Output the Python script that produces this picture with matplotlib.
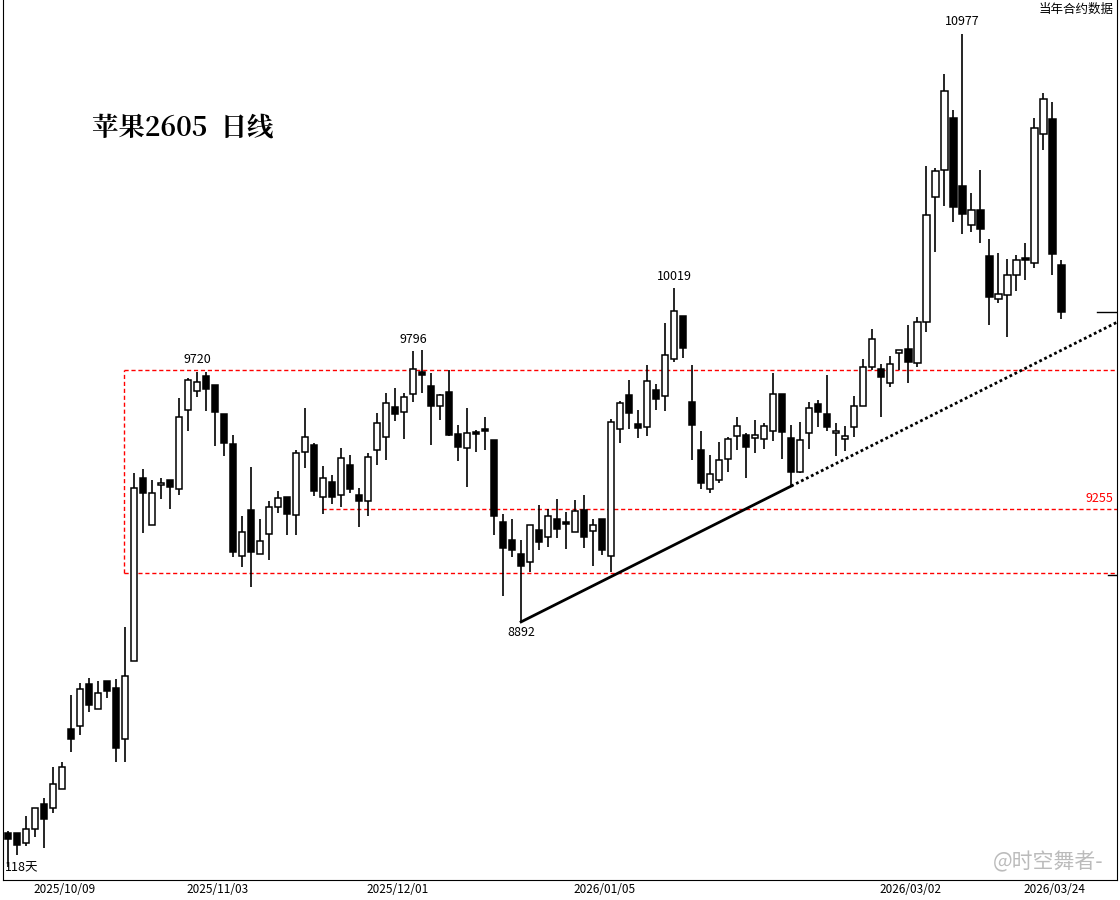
import matplotlib.pyplot as plt
import numpy as np

plt.rcParams['font.family'] = ['Noto Sans CJK SC', 'DejaVu Sans']

# 日线 OHLC
opens = [8100, 8097, 8061, 8111, 8201, 8186, 8254, 8469, 8483, 8630,
         8541, 8642, 8616, 8433, 8713, 9368, 9199, 9343, 9361, 9328,
         9611, 9679, 9733, 9702, 9598, 9490, 9088, 9254, 9096, 9167,
         9264, 9301, 9235, 9461, 9487, 9300, 9353, 9307, 9415, 9308,
         9287, 9468, 9517, 9622, 9604, 9668, 9747, 9698, 9628, 9677,
         9525, 9475, 9530, 9541, 9506, 9211, 9147, 9096, 9069, 9183,
         9159, 9222, 9210, 9177, 9255, 9178, 9222, 9088, 9545, 9665,
         9562, 9550, 9683, 9663, 9794, 9949, 9640, 9468, 9328, 9361,
         9436, 9518, 9523, 9511, 9510, 9536, 9668, 9511, 9391, 9529,
         9633, 9597, 9529, 9507, 9550, 9628, 9765, 9758, 9708, 9815,
         9830, 9779, 9926, 10374, 10470, 10657, 10414, 10273, 10327, 10164,
         10009, 10023, 10095, 10155, 10137, 10599, 10654, 10131]
closes = [8075, 8056, 8111, 8186, 8150, 8272, 8333, 8436, 8612, 8557,
          8598, 8607, 8403, 8662, 9332, 9316, 9314, 9350, 9338, 9586,
          9720, 9711, 9688, 9606, 9493, 9103, 9174, 9103, 9143, 9264,
          9296, 9241, 9457, 9514, 9323, 9368, 9302, 9439, 9330, 9287,
          9444, 9565, 9636, 9599, 9658, 9758, 9739, 9628, 9665, 9523,
          9481, 9529, 9525, 9536, 9234, 9119, 9111, 9055, 9199, 9141,
          9232, 9187, 9205, 9251, 9159, 9199, 9111, 9568, 9636, 9603,
          9549, 9715, 9653, 9808, 9966, 9835, 9560, 9352, 9382, 9432,
          9507, 9554, 9481, 9522, 9554, 9668, 9535, 9391, 9504, 9618,
          9606, 9552, 9536, 9518, 9625, 9765, 9865, 9731, 9776, 9826,
          9785, 9926, 10309, 10467, 10753, 10340, 10313, 10327, 10261, 10016,
          10026, 10094, 10149, 10148, 10621, 10724, 10172, 9964]
highs = [8105, 8100, 8159, 8186, 8222, 8334, 8351, 8592, 8635, 8653,
         8642, 8642, 8648, 8835, 9386, 9401, 9362, 9368, 9361, 9654,
         9727, 9749, 9749, 9702, 9598, 9522, 9233, 9409, 9222, 9285,
         9322, 9301, 9469, 9619, 9493, 9412, 9380, 9477, 9451, 9333,
         9458, 9601, 9674, 9690, 9674, 9823, 9827, 9746, 9670, 9755,
         9559, 9619, 9541, 9586, 9506, 9239, 9224, 9147, 9199, 9272,
         9258, 9294, 9248, 9290, 9308, 9222, 9222, 9580, 9646, 9720,
         9611, 9773, 9704, 9925, 10048, 9949, 9773, 9537, 9451, 9498,
         9517, 9587, 9529, 9576, 9565, 9745, 9668, 9559, 9568, 9640,
         9648, 9738, 9565, 9555, 9662, 9794, 9902, 9777, 9806, 9826,
         9917, 9946, 10486, 10479, 10815, 10686, 10958, 10388, 10471, 10224,
         10175, 10154, 10167, 10211, 10659, 10748, 10716, 10149]
lows = [7977, 8020, 8052, 8085, 8043, 8171, 8254, 8389, 8449, 8532,
        8541, 8582, 8353, 8353, 8713, 9173, 9199, 9294, 9258, 9308,
        9538, 9660, 9610, 9484, 9448, 9087, 9049, 8980, 9096, 9076,
        9242, 9166, 9166, 9406, 9305, 9241, 9277, 9266, 9314, 9194,
        9234, 9416, 9434, 9574, 9508, 9642, 9674, 9487, 9578, 9519,
        9431, 9338, 9463, 9469, 9166, 8947, 9085, 8854, 9033, 9113,
        9123, 9155, 9116, 9177, 9119, 9055, 9093, 9033, 9495, 9545,
        9513, 9520, 9612, 9610, 9785, 9799, 9433, 9330, 9316, 9352,
        9391, 9470, 9370, 9459, 9474, 9502, 9438, 9340, 9388, 9474,
        9550, 9538, 9449, 9467, 9517, 9628, 9755, 9588, 9696, 9755,
        9710, 9767, 9893, 10179, 10344, 10286, 10241, 10248, 10209, 9915,
        9996, 9872, 10039, 10078, 10122, 10543, 10097, 9938]

date_labels = ['2025/10/09', '2025/11/03', '2025/12/01', '2026/01/05', '2026/03/02', '2026/03/24']
date_pos = [6.3, 23.3, 43.3, 66.3, 100.3, 116.3]

# 标注的高低点
marks = {21: '9720', 45: '9796', 74: '10019', 106: '10977'}
low_mark = (57, '8892')

box_top, box_mid, box_bot = 9755, 9258, 9029

fig = plt.figure(figsize=(11.2, 9), dpi=100)
ax = fig.add_axes([3 / 1120, 20 / 900, 1114 / 1120, 880 / 900])
ax.set_xlim(-0.56, 123.2)
ax.set_ylim(7930, 11080)

x = np.arange(len(opens))
o = np.array(opens); c = np.array(closes)
up = c >= o
ax.vlines(x, lows, highs, color='black', lw=1.2, zorder=2)
bottom = np.minimum(o, c)
height = np.maximum(np.abs(c - o), 8)
ax.bar(x[up], height[up], bottom=bottom[up], width=0.74, color='white',
       edgecolor='black', lw=1.1, zorder=3)
ax.bar(x[~up], height[~up], bottom=bottom[~up], width=0.74, color='black',
       edgecolor='black', lw=1.1, zorder=3)

# 红色虚线箱体
xr = ax.get_xlim()[1]
ax.plot([12.85, xr], [box_top, box_top], 'r--', lw=1, dashes=(3, 2), zorder=1)
ax.plot([12.85, xr], [box_bot, box_bot], 'r--', lw=1, dashes=(3, 2), zorder=1)
ax.plot([12.85, 12.85], [box_bot, box_top], 'r--', lw=1, dashes=(3, 2), zorder=1)
ax.plot([34.9, xr], [box_mid, box_mid], 'r--', lw=1, dashes=(3, 2), zorder=1)
ax.text(122.8, box_mid + 15, '9255', color='red', ha='right', va='bottom', fontsize=9)

# 趋势线
x0, y0 = 57, lows[57]
x1, y1 = 87, lows[87]
slope = (y1 - y0) / (x1 - x0)
ax.plot([x0, x1], [y0, y1], color='black', lw=2, zorder=4)
ax.plot([x1, xr], [y1, y1 + slope * (xr - x1)], color='black', lw=2,
        ls=(0, (1, 1)), zorder=4)

for i, s in marks.items():
    ax.text(i, highs[i] + 20, s, ha='center', va='bottom', fontsize=9)
ax.text(low_mark[0], lows[low_mark[0]] - 15, low_mark[1], ha='center', va='top', fontsize=9)

ax.text(9.3, 10620, '苹果2605  日线', fontsize=19, fontweight='bold', ha='left', va='center',
        family=['Noto Serif CJK SC', 'Noto Sans CJK SC', 'DejaVu Serif'])
ax.text(122.8, 11070, '当年合约数据', fontsize=9, ha='right', va='top')
ax.text(-0.4, 7950, '118天', fontsize=9, ha='left', va='bottom')

# 右侧短刻线
ax.plot([121, xr], [9962, 9962], color='black', lw=1)
ax.plot([122.2, xr], [9020, 9020], color='black', lw=1)

ax.set_xticks(date_pos)
ax.set_xticklabels(date_labels, fontsize=8.5)
ax.tick_params(axis='x', length=0, pad=2)
ax.set_yticks([])
ax.spines['top'].set_visible(False)

fig.text(0.985, 0.03, '@时空舞者-', fontsize=15, color='#bbbbbb', ha='right', va='bottom')

fig.savefig('out.png', dpi=100)
